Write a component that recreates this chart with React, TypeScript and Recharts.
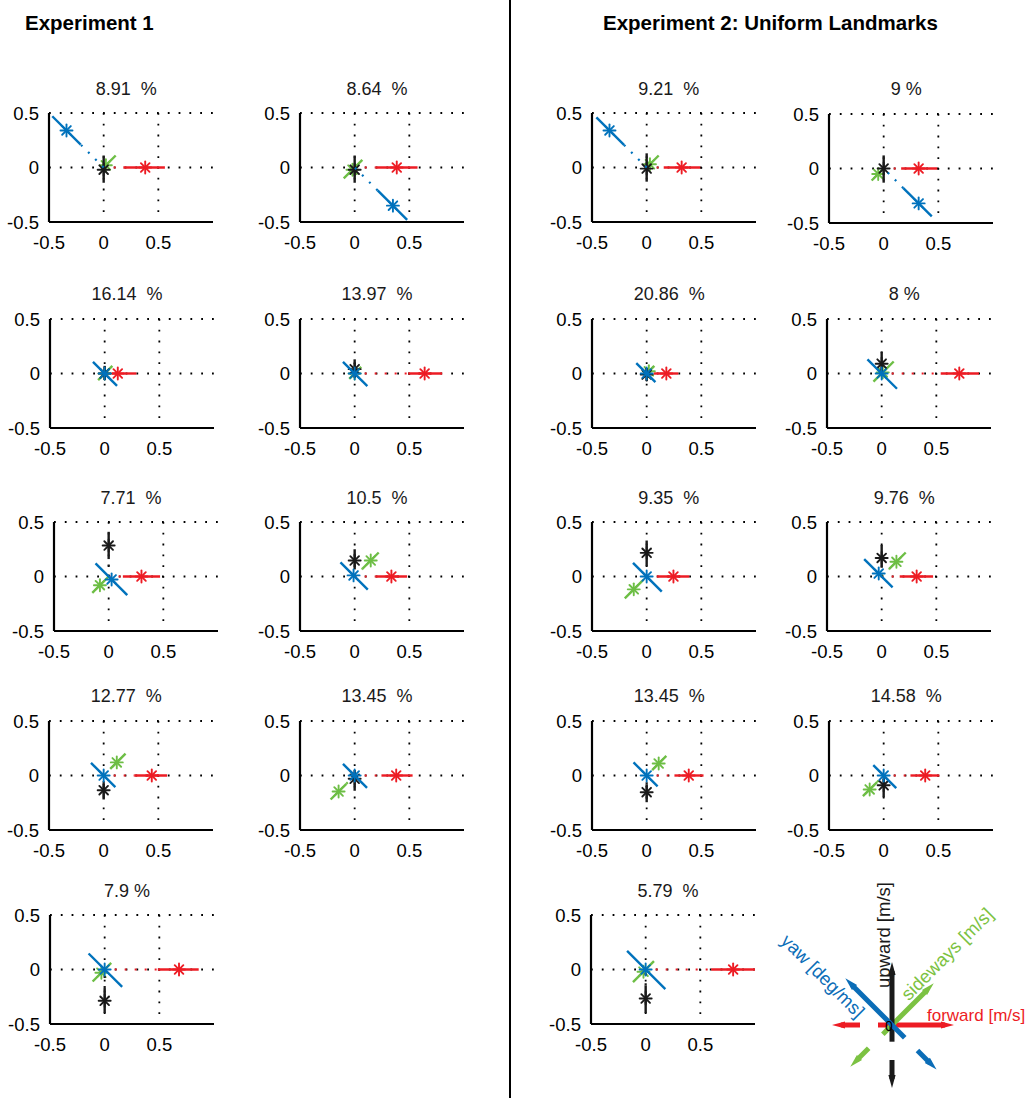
import React from 'react'
import { ScatterChart, Scatter, XAxis, YAxis, CartesianGrid } from 'recharts'

const FONT = '"Liberation Sans", Arial, Helvetica, sans-serif'

const RED = '#ED1C24'
const GREEN = '#6DBE45'
const BLUE = '#0072BC'
const BLACK = '#1A1A1A'

// [estimate, interval start, interval end] along each variable's own axis.
// Diagonal axes (sideways, yaw) are given by their x-offset.
type Est = [number, number, number]

const exp1Titles = ['8.91  %', '8.64  %', '16.14  %', '13.97  %', '7.71  %', '10.5  %', '12.77  %', '13.45  %', '7.9 %']
const exp1Forward: Est[] = [
  [0.38, 0.18, 0.56], [0.385, 0.19, 0.575], [0.12, 0.067, 0.29], [0.64, 0.49, 0.8], [0.3, 0.13, 0.47],
  [0.336, 0.19, 0.48], [0.44, 0.28, 0.58], [0.38, 0.245, 0.53], [0.68, 0.486, 0.86],
]
const exp1Sideways: Est[] = [
  [0.02, -0.02, 0.11], [-0.02, -0.1, 0.07], [0, -0.06, 0.07], [0, -0.05, 0.06], [-0.08, -0.15, 0],
  [0.147, 0.07, 0.22], [0.12, 0.06, 0.2], [-0.147, -0.22, -0.076], [-0.03, -0.11, 0.06],
]
const exp1Upward: Est[] = [
  [-0.02, -0.14, 0.11], [-0.02, -0.14, 0.11], [0, -0.06, 0.07], [0.04, -0.04, 0.13], [0.284, 0.16, 0.41],
  [0.147, 0.065, 0.25], [-0.135, -0.22, -0.07], [-0.03, -0.14, 0.05], [-0.287, -0.4, -0.17],
]
const exp1Yaw: Est[] = [
  [0.34, 0.21, 0.47], [-0.35, -0.48, -0.21], [0, -0.113, 0.107], [0, -0.116, 0.107], [-0.027, -0.17, 0.12],
  [0.01, -0.12, 0.13], [0, -0.107, 0.116], [0, -0.113, 0.107], [0, -0.16, 0.147],
]

const exp2Titles = ['9.21  %', '9 %', '20.86  %', '8 %', '9.35  %', '9.76  %', '13.45  %', '14.58  %', '5.79  %']
const exp2Forward: Est[] = [
  [0.32, 0.156, 0.49], [0.32, 0.16, 0.49], [0.18, 0.064, 0.29], [0.71, 0.54, 0.89], [0.245, 0.095, 0.39],
  [0.32, 0.165, 0.47], [0.385, 0.254, 0.52], [0.38, 0.245, 0.51], [0.8, 0.6, 1.0],
]
const exp2Sideways: Est[] = [
  [0.03, 0, 0.11], [-0.05, -0.11, 0], [0.02, -0.02, 0.07], [0.01, -0.075, 0.11], [-0.118, -0.2, -0.04],
  [0.135, 0.067, 0.22], [0.11, 0.05, 0.18], [-0.128, -0.19, -0.06], [-0.02, -0.116, 0.076],
]
const exp2Upward: Est[] = [
  [-0.01, -0.13, 0.13], [0, -0.13, 0.12], [-0.01, -0.07, 0.05], [0.09, 0, 0.2], [0.217, 0.095, 0.33],
  [0.17, 0.08, 0.29], [-0.153, -0.245, -0.08], [-0.09, -0.2, -0.03], [-0.266, -0.4, -0.145],
]
const exp2Yaw: Est[] = [
  [0.34, 0.205, 0.46], [-0.32, -0.44, -0.18], [0, -0.08, 0.095], [0, -0.14, 0.13], [0, -0.138, 0.125],
  [0.027, -0.1, 0.16], [0, -0.1, 0.12], [0, -0.115, 0.095], [0, -0.18, 0.17],
]

// panel placement: x of the y-axis and y of the top edge (page px)
const exp1Left = [49.3, 300, 50, 300, 54, 300, 49.3, 300, 50]
const exp1Top = [113.3, 113.3, 318.7, 318.7, 522.3, 522, 720.7, 720.7, 915]
const exp2Left = [591.7, 829.3, 592.3, 827.3, 591.7, 827.3, 592.3, 829.3, 591]
const exp2Top = [113.3, 113.7, 318.7, 318.7, 522.3, 522, 720.7, 720.7, 915]

type Dim = { key: string; color: string; dir: [number, number]; est: Est }

const PLOT_W = 164
const PLOT_H = 109
const AX_W = 60
const TOP_M = 30

const NoDot = () => <g />

const Asterisk = (color: string) => (props: any) => {
  const { cx, cy } = props
  const r = 6
  const d = r * 0.72
  return (
    <g stroke={color} strokeWidth={1.9} strokeLinecap="round">
      <line x1={cx - r} y1={cy} x2={cx + r} y2={cy} />
      <line x1={cx} y1={cy - r} x2={cx} y2={cy + r} />
      <line x1={cx - d} y1={cy - d} x2={cx + d} y2={cy + d} />
      <line x1={cx - d} y1={cy + d} x2={cx + d} y2={cy - d} />
    </g>
  )
}

function pt(dir: [number, number], s: number) {
  return { x: dir[0] * s, y: dir[1] * s }
}

function dimSeries(dim: Dim) {
  const [m, a, b] = dim.est
  const out: React.ReactNode[] = []
  const link = a > 0 ? [0, a] : b < 0 ? [b, 0] : null
  if (link) {
    out.push(
      <Scatter
        key={dim.key + '-link'}
        data={[pt(dim.dir, link[0]), pt(dim.dir, link[1])]}
        line={{ stroke: dim.color, strokeWidth: 2.2, strokeDasharray: '2 8' }}
        lineType="joint"
        shape={NoDot}
        isAnimationActive={false}
      />
    )
  }
  out.push(
    <Scatter
      key={dim.key + '-ci'}
      data={[pt(dim.dir, a), pt(dim.dir, b)]}
      line={{ stroke: dim.color, strokeWidth: 2.4 }}
      lineType="joint"
      shape={NoDot}
      isAnimationActive={false}
    />
  )
  out.push(
    <Scatter
      key={dim.key + '-est'}
      data={[pt(dim.dir, m)]}
      shape={Asterisk(dim.color)}
      isAnimationActive={false}
    />
  )
  return out
}

function Panel({ left, top, dims }: { left: number; top: number; dims: Dim[] }) {
  return (
    <div style={{ position: 'absolute', left: left - AX_W, top: top - TOP_M }}>
      <ScatterChart
        width={AX_W + PLOT_W + 10}
        height={TOP_M + PLOT_H + 40}
        margin={{ top: TOP_M, right: 10, bottom: 0, left: 0 }}
      >
        <CartesianGrid
          horizontalValues={[0, 0.5]}
          verticalValues={[0, 0.5]}
          stroke="#000"
          strokeWidth={1.8}
          strokeDasharray="1.8 9"
        />
        <XAxis
          type="number"
          dataKey="x"
          domain={[-0.5, 1]}
          ticks={[-0.5, 0, 0.5]}
          allowDataOverflow
          height={40}
          axisLine={{ stroke: '#000', strokeWidth: 2.2 }}
          tickLine={false}
          tickSize={6}
          tickMargin={8}
          tick={{ fill: '#000', fontSize: 18.5, fontFamily: FONT }}
        />
        <YAxis
          type="number"
          dataKey="y"
          domain={[-0.5, 0.5]}
          ticks={[-0.5, 0, 0.5]}
          allowDataOverflow
          width={AX_W}
          axisLine={{ stroke: '#000', strokeWidth: 2.2 }}
          tickLine={false}
          tickSize={6}
          tickMargin={4}
          tick={{ fill: '#000', fontSize: 18.5, fontFamily: FONT }}
        />
        {dims.flatMap(dimSeries)}
      </ScatterChart>
    </div>
  )
}

function panelDims(fw: Est, sw: Est, up: Est, yw: Est): Dim[] {
  return [
    { key: 'forward', color: RED, dir: [1, 0], est: fw },
    { key: 'sideways', color: GREEN, dir: [1, 1], est: sw },
    { key: 'upward', color: BLACK, dir: [0, 1], est: up },
    { key: 'yaw', color: BLUE, dir: [-1, 1], est: yw },
  ]
}

// legend: axis arrows, lengths along each (unit) direction
const legendArrows = [
  { key: 'forward', color: RED, dir: [1, 0], pos: [-0.14, 0.61], neg: [-0.32, -0.59] },
  { key: 'sideways', color: '#7CC242', dir: [1, 1], pos: [-0.13, 0.58], neg: [-0.33, -0.58] },
  { key: 'upward', color: BLACK, dir: [0, 1], pos: [-0.167, 0.62], neg: [-0.35, -0.62] },
  { key: 'yaw', color: '#0B6DB7', dir: [-1, 1], pos: [-0.18, 0.65], neg: [-0.36, -0.62] },
]

const ArrowHead = (color: string) => (props: any) => {
  const { cx, cy, payload } = props
  return (
    <polygon
      points="1,0 -12,-3.6 -12,3.6"
      fill={color}
      transform={`translate(${cx},${cy}) rotate(${payload.angle})`}
    />
  )
}

function LegendChart() {
  const series: React.ReactNode[] = []
  legendArrows.forEach((a) => {
    const len = Math.hypot(a.dir[0], a.dir[1])
    const u = [a.dir[0] / len, a.dir[1] / len]
    ;[a.pos, a.neg].forEach((seg, i) => {
      const sgn = seg[1] > seg[0] ? 1 : -1
      const angle = (Math.atan2(-u[1] * sgn, u[0] * sgn) * 180) / Math.PI
      const end = seg[1] - sgn * 0.08
      series.push(
        <Scatter
          key={a.key + i + 'shaft'}
          data={[
            { x: u[0] * seg[0], y: u[1] * seg[0] },
            { x: u[0] * end, y: u[1] * end },
          ]}
          line={{ stroke: a.color, strokeWidth: 5 }}
          lineType="joint"
          shape={NoDot}
          isAnimationActive={false}
        />
      )
      series.push(
        <Scatter
          key={a.key + i + 'tip'}
          data={[{ x: u[0] * seg[1], y: u[1] * seg[1], angle }]}
          shape={ArrowHead(a.color)}
          isAnimationActive={false}
        />
      )
    })
  })
  return (
    <div style={{ position: 'absolute', left: 770, top: 870 }}>
      <ScatterChart width={256} height={228} margin={{ top: 0, right: 0, bottom: 0, left: 0 }}>
        <XAxis type="number" dataKey="x" domain={[-1.22, 1.34]} hide allowDataOverflow />
        <YAxis type="number" dataKey="y" domain={[-0.73, 1.55]} hide allowDataOverflow />
        {series}
      </ScatterChart>
    </div>
  )
}

export default function App() {
  const panels: React.ReactNode[] = []
  exp1Titles.forEach((_, i) => {
    panels.push(
      <Panel key={'e1' + i} left={exp1Left[i]} top={exp1Top[i]}
        dims={panelDims(exp1Forward[i], exp1Sideways[i], exp1Upward[i], exp1Yaw[i])} />
    )
  })
  exp2Titles.forEach((_, i) => {
    panels.push(
      <Panel key={'e2' + i} left={exp2Left[i]} top={exp2Top[i]}
        dims={panelDims(exp2Forward[i], exp2Sideways[i], exp2Upward[i], exp2Yaw[i])} />
    )
  })

  const titleText = (t: string, left: number, top: number, k: string) => (
    <text key={k} x={left + PLOT_W / 2 - 5} y={top - 18.5} textAnchor="middle" fontSize={18}
      style={{ whiteSpace: 'pre' }} fill="#1a1a1a">
      {t}
    </text>
  )

  return (
    <div style={{ position: 'absolute', left: 0, top: 0, width: 1028, height: 1098, background: '#fff', fontFamily: FONT }}>
      {panels}
      <LegendChart />
      <svg width={1028} height={1098} style={{ position: 'absolute', left: 0, top: 0, pointerEvents: 'none' }}
        fontFamily={FONT}>
        <line x1={510} y1={0} x2={510} y2={1098} stroke="#000" strokeWidth={2} />
        <text x={25} y={30} fontSize={20.5} fontWeight="bold" fill="#000">Experiment 1</text>
        <text x={603} y={30} fontSize={20.5} fontWeight="bold" fill="#000">Experiment 2: Uniform Landmarks</text>
        {exp1Titles.map((t, i) => titleText(t, exp1Left[i], exp1Top[i], 't1' + i))}
        {exp2Titles.map((t, i) => titleText(t, exp2Left[i], exp2Top[i], 't2' + i))}
        <text x={883} y={935} fontSize={18.5} fill={BLACK} textAnchor="middle" dominantBaseline="central"
          transform="rotate(-90 883 935)">upward [m/s]</text>
        <text x={823} y={976} fontSize={18.5} fill="#0B6DB7" textAnchor="middle" dominantBaseline="central"
          transform="rotate(45 823 976)">yaw [deg/ms]</text>
        <text x={947} y={954} fontSize={18.5} fill="#7CC242" textAnchor="middle" dominantBaseline="central"
          transform="rotate(-45 947 954)">sideways [m/s]</text>
        <text x={927} y={1021} fontSize={17} fill={RED}>forward [m/s]</text>
        <text x={889} y={1031} fontSize={14} fill="#000" textAnchor="middle">0</text>
      </svg>
    </div>
  )
}
